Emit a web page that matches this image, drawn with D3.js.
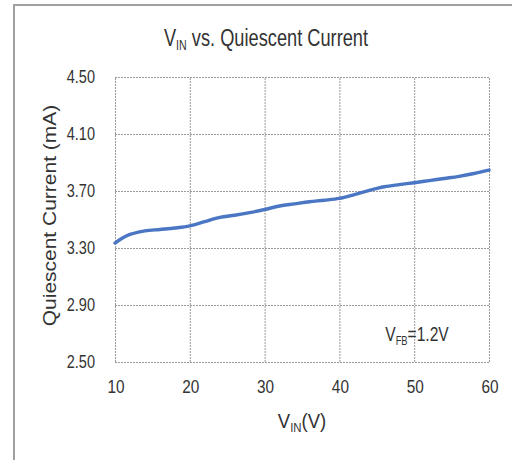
<!DOCTYPE html>
<html><head><meta charset="utf-8">
<script src="https://cdn.jsdelivr.net/npm/d3@7"></script>
<style>body{margin:0;background:#fff;overflow:hidden}</style></head>
<body>
<script>
const vin = [10,11,12,13,14,16,18,20,22,24,26,28,30,32,34,36,38,40,42,44,46,48,50,52,54,56,58,60];
const current = [3.335,3.37,3.395,3.41,3.42,3.43,3.44,3.455,3.485,3.515,3.53,3.548,3.57,3.595,3.61,3.625,3.635,3.648,3.675,3.705,3.73,3.745,3.758,3.773,3.788,3.803,3.823,3.847];
const xTicks = [10,20,30,40,50,60];
const yTicks = [2.5,2.9,3.3,3.7,4.1,4.5];
const titleText = "vs. Quiescent Current";
const yTitle = "Quiescent Current (mA)";
const annot = "=1.2V";

const W = 512, H = 460;
const font = "'Liberation Sans', Arial, sans-serif";
const svg = d3.select("body").append("svg").attr("width", W).attr("height", H);

const L = 115, R = 489, T = 77, B = 362;
const x = d3.scaleLinear().domain([10,60]).range([L,R]);
const y = d3.scaleLinear().domain([2.5,4.5]).range([B,T]);

// outer frame (top & left)
svg.append("line").attr("x1",14).attr("x2",W).attr("y1",5).attr("y2",5).attr("stroke","#a0a0a0").attr("stroke-width",2);
svg.append("line").attr("x1",14).attr("x2",14).attr("y1",4).attr("y2",H).attr("stroke","#a0a0a0").attr("stroke-width",2);

// grid via axes
const gx = svg.append("g").attr("transform",`translate(0,${B})`)
  .call(d3.axisBottom(x).tickValues(xTicks).tickSize(-(B-T)).tickFormat(""));
const gy = svg.append("g").attr("transform",`translate(${L},0)`)
  .call(d3.axisLeft(y).tickValues(yTicks).tickSize(-(R-L)).tickFormat(""));
[gx,gy].forEach(g=>{
  g.select(".domain").remove();
  g.selectAll(".tick line").attr("stroke","#9a9a9a").attr("stroke-dasharray","2,1").attr("stroke-width",1);
});

function sText(px, py, sx, size, anchor){
  const g = svg.append("g").attr("transform",`translate(${px},${py}) scale(${sx},1)`);
  return g.append("text").attr("font-family",font).attr("font-size",size).attr("fill","#333").attr("text-anchor",anchor);
}
yTicks.forEach(v=>{
  sText(95, y(v)+6, 0.83, 17.5, "end").text(v.toFixed(2));
});
xTicks.forEach(v=>{
  sText(x(v)+1, 393, 0.83, 18.5, "middle").text(v);
});

// line
svg.append("path")
  .datum(vin.map((v,i)=>[v,current[i]]))
  .attr("fill","none").attr("stroke","#4a76c4").attr("stroke-width",3.4).attr("stroke-linecap","round")
  .attr("d", d3.line().x(d=>x(d[0])).y(d=>y(d[1])).curve(d3.curveMonotoneX));

// title
const t = sText(266, 46, 0.76, 24, "middle");
t.append("tspan").text("V");
t.append("tspan").attr("font-size",14).attr("dy",4).text("IN");
t.append("tspan").attr("dy",-4).text(" " + titleText);

// x-axis title
const xt = sText(302, 428, 0.88, 21, "middle");
xt.append("tspan").text("V");
xt.append("tspan").attr("font-size",13).attr("dy",4).text("IN");
xt.append("tspan").attr("dy",-4).text("(V)");

// y-axis title
svg.append("g").attr("transform",`translate(56,${(T+B)/2-4}) rotate(-90) scale(1,0.85)`)
  .append("text").attr("font-family",font).attr("font-size",21).attr("fill","#333")
  .attr("text-anchor","middle").text(yTitle);

// annotation
const an = sText(417, 341, 0.78, 20, "middle");
an.append("tspan").text("V");
an.append("tspan").attr("font-size",12).attr("dy",4).text("FB");
an.append("tspan").attr("dy",-4).text(annot);
</script>
</body></html>
